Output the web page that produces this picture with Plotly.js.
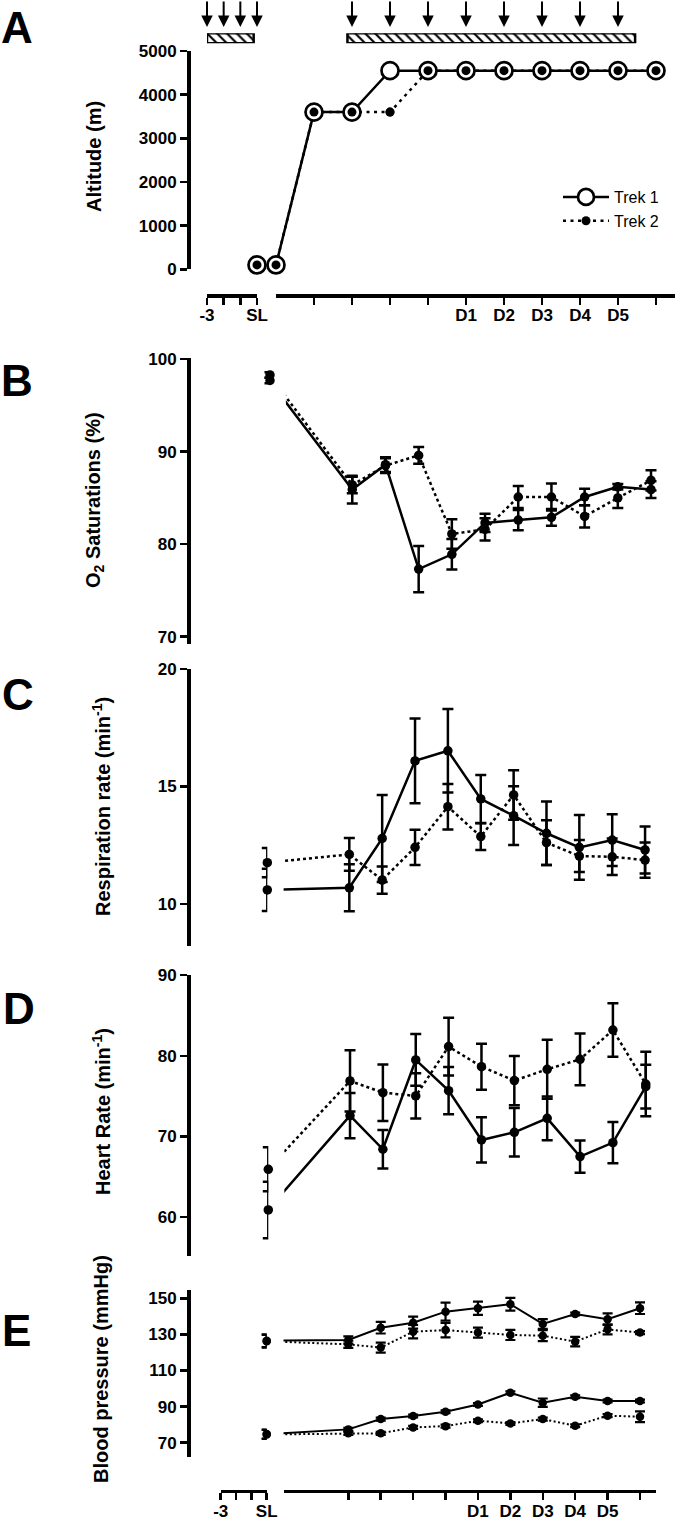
<!DOCTYPE html>
<html><head><meta charset="utf-8">
<script src="https://cdn.plot.ly/plotly-3.0.1.min.js"></script>
<style>html,body{margin:0;padding:0;background:#fff}</style>
</head><body><div id="chart" style="width:677px;height:1536px"></div>
<script>
// ================= DATA =================
// x axis: pre-trek segment (days before, SL = sea level) and trek segment (day index)
const preTickVals = [-3, -2, -1, 0];
const preTickText = ['-3', '', '', 'SL'];
const slDay = 0;

// Panel A: altitude profile
const altDays = [0, 1, 2, 3, 4, 5, 6, 7, 8, 9, 10];
const altTickVals = [1, 2, 3, 4, 5, 6, 7, 8, 9, 10];
const altTickText = ['', '', '', '', 'D1', 'D2', 'D3', 'D4', 'D5', ''];
const altSLTrek1 = 100;
const altSLTrek2 = 100;
const altTrek1 = [100, 3600, 3600, 4550, 4550, 4550, 4550, 4550, 4550, 4550, 4550];
const altTrek2 = [100, 3600, 3600, 3600, 4550, 4550, 4550, 4550, 4550, 4550, 4550];
const measureDaysPre = [-3, -2, -1, 0];
const measureDaysTrek = [2, 3, 4, 5, 6, 7, 8, 9];
const periodPre = [-3, -0.2];
const periodTrek = [1.88, 9.45];

// Panels B-E: physiology
const physDays = [2, 3, 4, 5, 6, 7, 8, 9, 10, 11];
const physTickText = ['', '', '', '', 'D1', 'D2', 'D3', 'D4', 'D5', ''];

// B: O2 saturation (%)
const satSL1 = 97.7, satSLErr1 = 0.3;
const satSL2 = 98.3, satSLErr2 = 0.3;
const sat1 = [85.9, 88.6, 77.3, 78.9, 82.3, 82.6, 82.9, 85.1, 86.2, 85.9];
const satErr1 = [1.5, 0.8, 2.5, 1.65, 1.0, 1.1, 0.9, 0.9, 0.3, 0.9];
const sat2 = [86.4, 88.5, 89.6, 81.1, 81.6, 85.1, 85.1, 83.0, 85.0, 86.9];
const satErr2 = [0.9, 0.8, 0.9, 1.6, 1.2, 1.2, 1.45, 1.2, 1.1, 1.1];

// C: respiration rate (min-1)
const respSL1 = 10.6, respSLErr1 = 0.9;
const respSL2 = 11.76, respSLErr2 = 0.62;
const resp1 = [10.69, 12.79, 16.09, 16.52, 14.47, 13.76, 13.01, 12.41, 12.72, 12.3];
const respErr1 = [1.0, 1.85, 1.8, 1.78, 1.02, 1.25, 1.35, 1.38, 1.1, 1.0];
const resp2 = [12.11, 11.02, 12.41, 14.14, 12.87, 14.64, 12.61, 12.04, 12.01, 11.87];
const respErr2 = [0.7, 0.58, 0.75, 0.97, 0.57, 1.05, 0.95, 0.68, 0.78, 0.75];

// D: heart rate (min-1)
const hrSL1 = 60.9, hrSLErr1 = 3.5;
const hrSL2 = 65.94, hrSLErr2 = 2.72;
const hr1 = [72.58, 68.42, 79.48, 75.68, 69.57, 70.52, 72.25, 67.51, 69.24, 76.17];
const hrErr1 = [2.8, 2.38, 3.2, 2.93, 2.8, 3.0, 2.7, 2.0, 2.55, 2.7];
const hr2 = [76.88, 75.43, 75.02, 81.13, 78.65, 76.92, 78.32, 79.56, 83.19, 76.5];
const hrErr2 = [3.8, 3.5, 2.8, 3.57, 2.85, 3.05, 3.65, 3.2, 3.3, 4.0];

// E: blood pressure (mmHg)
const sysSL1 = 126.5, sysSLErr1 = 3.5;
const sysSL2 = 126.2, sysSLErr2 = 3.5;
const sys1 = [126.9, 133.7, 136.5, 142.6, 144.5, 146.7, 135.8, 141.3, 138.4, 144.5];
const sysErr1 = [2.0, 3.2, 3.3, 5.0, 3.7, 3.5, 2.7, 0.8, 3.2, 3.2];
const sys2 = [124.5, 122.7, 131.5, 132.4, 131.0, 129.7, 129.3, 126.0, 132.8, 131.0];
const sysErr2 = [2.0, 2.8, 3.7, 4.0, 2.8, 2.8, 3.0, 2.6, 2.8, 0.8];
const diaSL1 = 74.8, diaSLErr1 = 2.5;
const diaSL2 = 74.6, diaSLErr2 = 2.5;
const dia1 = [77.4, 83.1, 84.8, 87.2, 91.2, 97.7, 92.2, 95.5, 93.1, 93.1];
const diaErr1 = [0.8, 0.8, 0.8, 0.8, 0.8, 0.8, 2.3, 0.8, 0.8, 0.8];
const dia2 = [75.2, 75.2, 78.5, 79.2, 82.2, 80.7, 83.1, 79.4, 85.0, 84.4];
const diaErr2 = [0.8, 0.8, 0.8, 0.8, 0.8, 0.8, 0.8, 0.8, 0.8, 3.0];

// ================= LAYOUT HELPERS =================
const FONT = 'Liberation Sans, Arial, sans-serif';
const W = 677, H = 1536;
const fx = p => p / W;
const fy = p => 1 - p / H;
const SL_GAP = -0.5; // where the SL reading sits relative to the trek axis (axis break)
const BLACK = '#000';

const axisStyle = {
  showline: true, linecolor: BLACK, linewidth: 3.5,
  ticks: 'outside', ticklen: 7, tickwidth: 2.5, tickcolor: BLACK,
  showgrid: false, zeroline: false, fixedrange: true,
  tickfont: {family: FONT, size: 17, color: BLACK, weight: 'bold'}
};

function yAxis(range, topPx, botPx, dtick, tick0) {
  return Object.assign({}, axisStyle, {
    domain: [fy(botPx), fy(topPx)], range: range, anchor: 'free', position: fx(188),
    dtick: dtick, tick0: tick0
  });
}
function xAxis(range, leftPx, rightPx, posPx, tickvals, ticktext, visible) {
  return Object.assign({}, axisStyle, {
    domain: [fx(leftPx), fx(rightPx)], range: range, anchor: 'free',
    position: posPx === null ? 0 : fy(posPx), tickmode: 'array',
    tickvals: tickvals, ticktext: ticktext, visible: visible, ticklabelstandoff: -4
  });
}

// ================= TRACES =================
const traces = [];

// Panel A hatched periods
function periodBar(span, xa) {
  return {
    type: 'bar', orientation: 'h', y: [0.5], base: [span[0]], x: [span[1] - span[0]], width: [1],
    xaxis: xa, yaxis: 'y6', showlegend: false, hoverinfo: 'skip',
    marker: {color: '#fff', line: {color: BLACK, width: 2.5},
      pattern: {shape: '\\', fgcolor: BLACK, bgcolor: '#fff', size: 7, solidity: 0.3}}
  };
}
traces.push(periodBar(periodPre, 'x'));
traces.push(periodBar(periodTrek, 'x2'));

// Panel A altitude
const openCircle = {symbol: 'circle', size: 17, color: '#fff', line: {color: BLACK, width: 2.7}};
const dot = {symbol: 'circle', size: 9, color: BLACK, line: {width: 0}};
traces.push({x: [slDay], y: [altSLTrek1], xaxis: 'x', yaxis: 'y', mode: 'markers', marker: openCircle,
  cliponaxis: false, showlegend: false, hoverinfo: 'skip'});
traces.push({x: [slDay], y: [altSLTrek2], xaxis: 'x', yaxis: 'y', mode: 'markers', marker: dot,
  cliponaxis: false, showlegend: false, hoverinfo: 'skip'});
traces.push({x: altDays, y: altTrek2, xaxis: 'x2', yaxis: 'y', mode: 'lines+markers', name: 'Trek 2',
  legendrank: 2, line: {color: BLACK, width: 2.5, dash: '3px,4.5px'}, marker: dot, cliponaxis: false});
traces.push({x: altDays, y: altTrek1, xaxis: 'x2', yaxis: 'y', mode: 'lines+markers', name: 'Trek 1',
  legendrank: 1, line: {color: BLACK, width: 2.5}, marker: openCircle, cliponaxis: false});
traces.push({x: altDays, y: altTrek2, xaxis: 'x2', yaxis: 'y', mode: 'markers', marker: dot,
  cliponaxis: false, showlegend: false, hoverinfo: 'skip'});

// Panels B-E
function series(xPre, xMain, ya, vals, errs, sl, slErr, dotted, st) {
  const line = {color: BLACK, width: st.lw};
  if (dotted) line.dash = st.dash;
  const eb = (arr) => ({type: 'data', array: arr, visible: true, color: BLACK, thickness: st.et, width: st.ew});
  const mk = {symbol: 'circle', size: st.ms, color: BLACK, line: {width: 0}};
  return [
    {x: [SL_GAP].concat(physDays), y: [sl].concat(vals), xaxis: xMain, yaxis: ya, mode: 'lines',
      line: line, showlegend: false, hoverinfo: 'skip'},
    {x: physDays, y: vals, xaxis: xMain, yaxis: ya, mode: 'markers', marker: mk, error_y: eb(errs),
      cliponaxis: false, showlegend: false, hoverinfo: 'skip'},
    {x: [slDay], y: [sl], xaxis: xPre, yaxis: ya, mode: 'markers', marker: mk, error_y: eb([slErr]),
      cliponaxis: false, showlegend: false, hoverinfo: 'skip'}
  ];
}
const stBD = {lw: 2.5, dash: '3px,3px', ms: 9.5, et: 2.5, ew: 5.5};
const stE = {lw: 2, dash: '2px,2.5px', ms: 8.5, et: 2.2, ew: 5};

traces.push(...series('x3', 'x4', 'y2', sat2, satErr2, satSL2, satSLErr2, true, stBD));
traces.push(...series('x3', 'x4', 'y2', sat1, satErr1, satSL1, satSLErr1, false, stBD));
traces.push(...series('x5', 'x6', 'y3', resp2, respErr2, respSL2, respSLErr2, true, stBD));
traces.push(...series('x5', 'x6', 'y3', resp1, respErr1, respSL1, respSLErr1, false, stBD));
traces.push(...series('x7', 'x8', 'y4', hr2, hrErr2, hrSL2, hrSLErr2, true, stBD));
traces.push(...series('x7', 'x8', 'y4', hr1, hrErr1, hrSL1, hrSLErr1, false, stBD));
traces.push(...series('x9', 'x10', 'y5', sys2, sysErr2, sysSL2, sysSLErr2, true, stE));
traces.push(...series('x9', 'x10', 'y5', sys1, sysErr1, sysSL1, sysSLErr1, false, stE));
traces.push(...series('x9', 'x10', 'y5', dia2, diaErr2, diaSL2, diaSLErr2, true, stE));
traces.push(...series('x9', 'x10', 'y5', dia1, diaErr1, diaSL1, diaSLErr1, false, stE));

// ================= ANNOTATIONS =================
const annotations = [];
function letter(t, cx, cy) {
  annotations.push({text: t, x: fx(cx), y: fy(cy), xref: 'paper', yref: 'paper', xanchor: 'center',
    yanchor: 'middle', showarrow: false, font: {family: FONT, size: 44, color: BLACK, weight: 'bold'}});
}
function ytitle(t, cx, cy) {
  annotations.push({text: t, x: fx(cx), y: fy(cy), xref: 'paper', yref: 'paper', xanchor: 'center',
    yanchor: 'middle', textangle: -90, showarrow: false,
    font: {family: FONT, size: 20, color: BLACK, weight: 'bold'}});
}
letter('A', 17, 28); letter('B', 17, 380); letter('C', 18, 694); letter('D', 19, 1008); letter('E', 16, 1330);
ytitle('Altitude (m)', 94, 157);
ytitle('O<sub>2</sub> Saturations (%)', 95, 500);
ytitle('Respiration rate (min<sup>-1</sup>)', 101, 807);
ytitle('Heart Rate (min<sup>-1</sup>)', 101, 1112);
ytitle('Blood pressure (mmHg)', 101, 1369);

function arrow(xv, xref) {
  annotations.push({text: '', x: xv, y: fy(27), xref: xref, yref: 'paper', showarrow: true,
    ax: 0, ay: -28, arrowhead: 2, arrowsize: 1.15, arrowwidth: 2, arrowcolor: BLACK});
}
measureDaysPre.forEach(d => arrow(d, 'x'));
measureDaysTrek.forEach(d => arrow(d, 'x2'));

// ================= LAYOUT =================
const layout = {
  width: W, height: H, autosize: false,
  margin: {l: 0, r: 0, t: 0, b: 0, pad: 0},
  paper_bgcolor: '#fff', plot_bgcolor: 'rgba(0,0,0,0)',
  barmode: 'overlay', showlegend: true,
  legend: {x: fx(558), y: fy(180), xanchor: 'left', yanchor: 'top', bgcolor: 'rgba(0,0,0,0)',
    font: {family: FONT, size: 16, color: BLACK}, traceorder: 'normal', itemwidth: 46},
  font: {family: FONT, color: BLACK},
  // Panel A
  xaxis: xAxis([-3, 0], 207, 257, 295, preTickVals, preTickText, true),
  xaxis2: xAxis([0, 10.5], 276, 675, 295, altTickVals, altTickText, true),
  yaxis: yAxis([0, 5000], 51, 269.3, 1000, 0),
  yaxis6: {domain: [fy(43.3), fy(33.3)], range: [0, 1], anchor: 'free', position: 0, visible: false, fixedrange: true},
  // Panel B
  xaxis3: xAxis([-3, 0], 224, 270, null, preTickVals, preTickText, false),
  xaxis4: xAxis([0, 11.5], 285.9, 667.6, null, physDays, physTickText, false),
  yaxis2: yAxis([69.2, 100.1], 358.3, 644, 10, 0),
  // Panel C
  xaxis5: xAxis([-3, 0], 221.3, 267.3, null, preTickVals, preTickText, false),
  xaxis6: xAxis([0, 11.5], 283.6, 661.5, null, physDays, physTickText, false),
  yaxis3: yAxis([8.2, 20], 669, 946.3, 5, 0),
  // Panel D
  xaxis7: xAxis([-3, 0], 222.3, 268.3, null, preTickVals, preTickText, false),
  xaxis8: xAxis([0, 11.5], 284.3, 662.2, null, physDays, physTickText, false),
  yaxis4: yAxis([55.2, 90], 975, 1256, 10, 0),
  // Panel E
  xaxis9: xAxis([-3, 0], 220.7, 266.7, 1490.7, preTickVals, preTickText, true),
  xaxis10: xAxis([0, 11.5], 283.5, 656.2, 1490.7, physDays, physTickText, true),
  yaxis5: yAxis([62.1, 154.6], 1290, 1457, 20, 10),
  annotations: annotations
};

Plotly.newPlot('chart', traces, layout, {staticPlot: true, displayModeBar: false});
</script>
</body></html>
